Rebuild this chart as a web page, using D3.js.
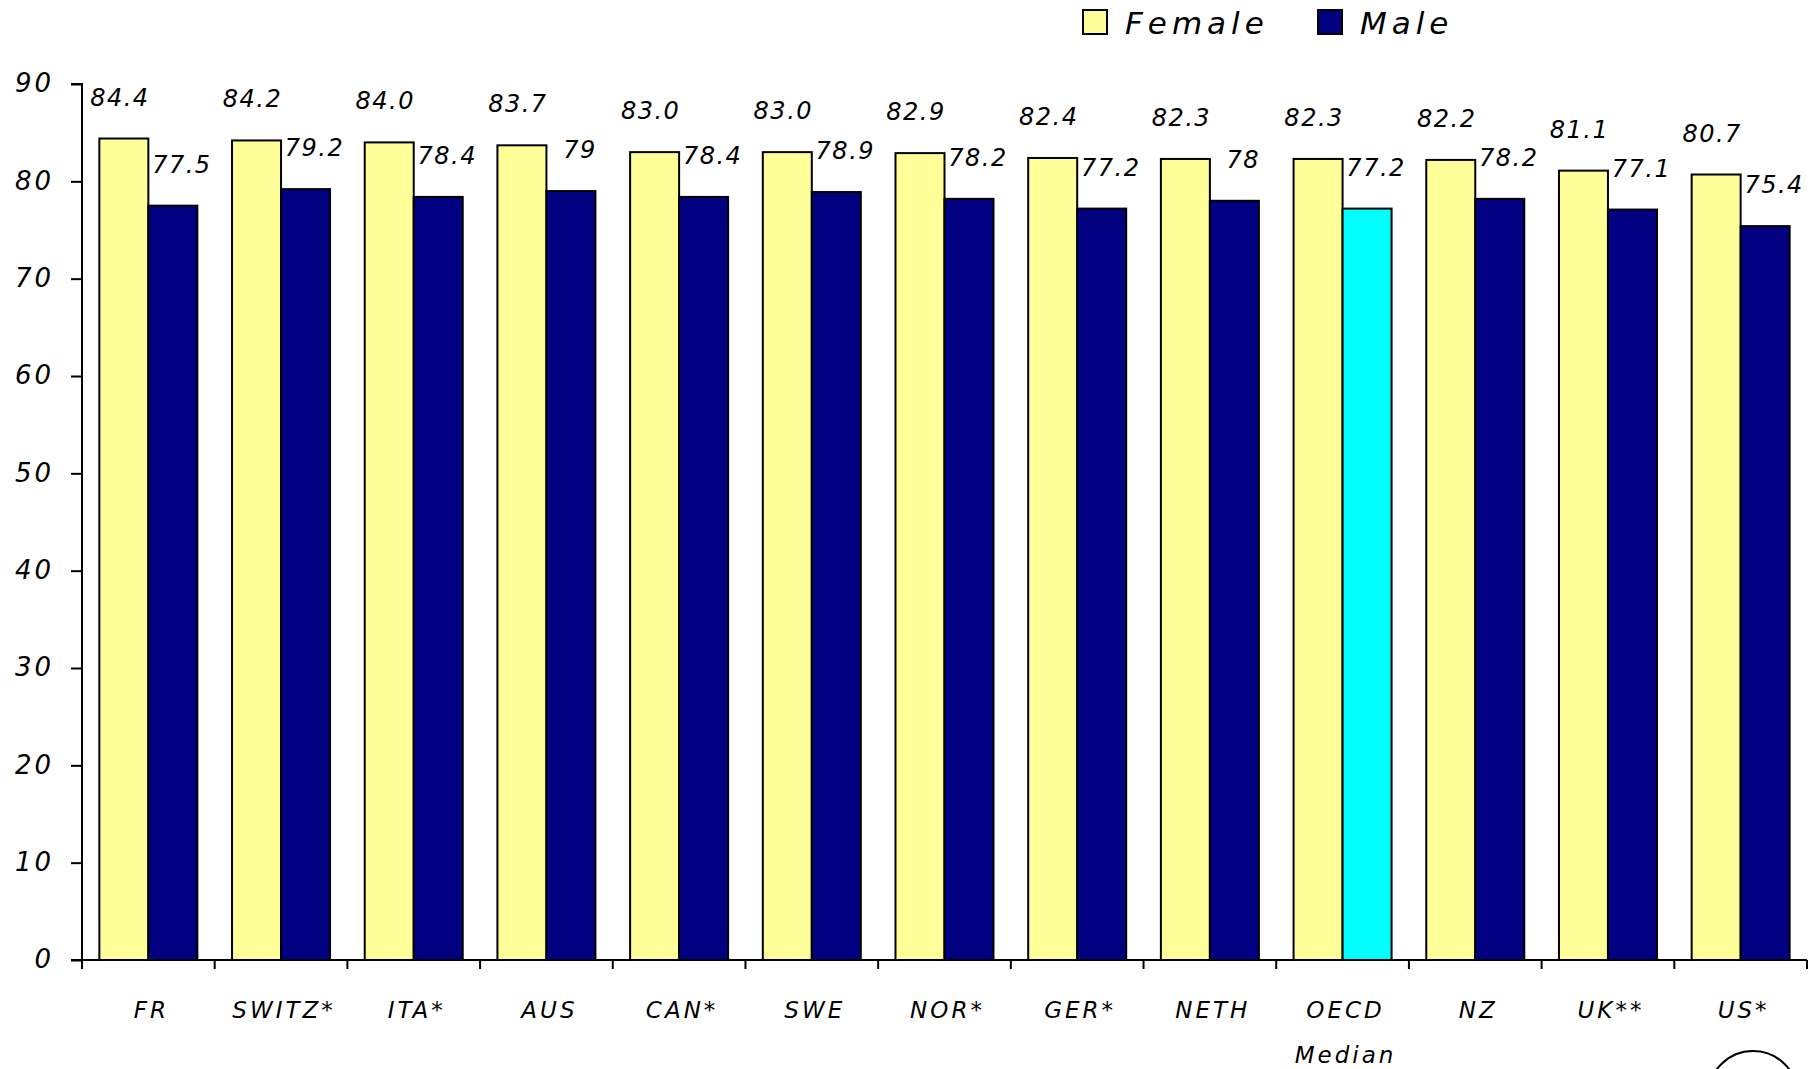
<!DOCTYPE html>
<html>
<head>
<meta charset="utf-8">
<script src="https://cdn.jsdelivr.net/npm/d3@7"></script>
<style>
  html, body { margin: 0; padding: 0; background: #fff; }
  svg text { font-family: "DejaVu Sans", Verdana, sans-serif; font-style: italic; fill: #000; }
</style>
</head>
<body>
<svg id="chart" width="1812" height="1069"></svg>
<script>
// Life expectancy at birth by country, female vs male
const categories = ["FR", "SWITZ*", "ITA*", "AUS", "CAN*", "SWE", "NOR*", "GER*", "NETH", "OECD\nMedian", "NZ", "UK**", "US*"];
const femaleValues = [84.4, 84.2, 84.0, 83.7, 83.0, 83.0, 82.9, 82.4, 82.3, 82.3, 82.2, 81.1, 80.7];
const maleValues = [77.5, 79.2, 78.4, 79, 78.4, 78.9, 78.2, 77.2, 78, 77.2, 78.2, 77.1, 75.4];
const yTicks = [0, 10, 20, 30, 40, 50, 60, 70, 80, 90];
const seriesNames = ["Female", "Male"];
const highlightCategory = "OECD\nMedian";

const colors = { Female: "#FFFF99", Male: "#000080", highlight: "#00FFFF" };

const svg = d3.select("#chart");
const plot = { left: 82, right: 1807, top: 84, bottom: 960 };

const x0 = d3.scaleBand().domain(categories).range([plot.left, plot.right]).padding(0);
const x1 = d3.scaleBand().domain(seriesNames).range([0, x0.bandwidth()]).paddingInner(0).paddingOuter(0.354);
const y = d3.scaleLinear().domain([0, 90]).range([plot.bottom, plot.top]);

const rows = categories.map((c, i) => ({ cat: c, Female: femaleValues[i], Male: maleValues[i] }));

// Bars
const groups = svg.append("g").selectAll("g")
  .data(rows).join("g")
  .attr("transform", d => `translate(${x0(d.cat)},0)`);

groups.selectAll("rect")
  .data(d => seriesNames.map(s => ({ s, v: d[s], cat: d.cat })))
  .join("rect")
  .attr("x", d => x1(d.s))
  .attr("y", d => y(d.v))
  .attr("width", x1.bandwidth())
  .attr("height", d => y(0) - y(d.v))
  .attr("fill", d => (d.s === "Male" && d.cat === highlightCategory) ? colors.highlight : colors[d.s])
  .attr("stroke", "#000")
  .attr("stroke-width", 2);

// Value labels
groups.selectAll("text.val")
  .data(d => seriesNames.map(s => ({ s, v: d[s] })))
  .join("text")
  .attr("class", "val")
  .attr("x", d => x1(d.s) + x1.bandwidth() / 2 + (d.s === "Male" ? 9 : -4))
  .attr("y", d => y(d.v) - 33)
  .attr("text-anchor", "middle")
  .attr("font-size", 24)
  .attr("letter-spacing", 1.5)
  .text(d => d.s === "Female" ? d.v.toFixed(1) : String(d.v));

// Y axis
const yAxis = d3.axisLeft(y).tickValues(yTicks).tickSize(11).tickPadding(17).tickFormat(d3.format("d"));
const gy = svg.append("g").attr("transform", `translate(${plot.left},0)`).call(yAxis);
gy.select(".domain").attr("stroke", "#000").attr("stroke-width", 2).attr("d", `M-11,${plot.top}H0V${plot.bottom}`);
gy.selectAll(".tick line").attr("stroke", "#000").attr("stroke-width", 2);
gy.selectAll(".tick text")
  .attr("font-size", 26).attr("letter-spacing", 3)
  .style("font-family", "'DejaVu Sans', Verdana, sans-serif").style("font-style", "italic")
  .attr("fill", "#000").attr("dy", "0.3em");

// X axis: line with ticks at category boundaries
const gx = svg.append("g");
gx.append("line")
  .attr("x1", plot.left - 11).attr("x2", plot.right)
  .attr("y1", plot.bottom).attr("y2", plot.bottom)
  .attr("stroke", "#000").attr("stroke-width", 2);
const boundaries = categories.map(c => x0(c)).concat([x0(categories[categories.length - 1]) + x0.bandwidth()]);
gx.selectAll("line.tk").data(boundaries).join("line")
  .attr("class", "tk")
  .attr("x1", d => d).attr("x2", d => d)
  .attr("y1", plot.bottom).attr("y2", plot.bottom + 9)
  .attr("stroke", "#000").attr("stroke-width", 2);

const xl = gx.selectAll("text.cat").data(categories).join("text")
  .attr("class", "cat")
  .attr("text-anchor", "middle")
  .attr("font-size", 23)
  .attr("letter-spacing", 3);
xl.each(function (c) {
  const lines = c.split("\n");
  const t = d3.select(this);
  lines.forEach((ln, i) => {
    t.append("tspan")
      .attr("x", x0(c) + x0.bandwidth() / 2 + 3)
      .attr("y", 1018 + i * 45)
      .text(ln);
  });
});

// Legend
const legend = svg.append("g");
const legendItems = [
  { name: "Female", x: 1083 },
  { name: "Male", x: 1318 }
];
legendItems.forEach(it => {
  legend.append("rect")
    .attr("x", it.x).attr("y", 10).attr("width", 24).attr("height", 24)
    .attr("fill", colors[it.name]).attr("stroke", "#000").attr("stroke-width", 2);
  legend.append("text")
    .attr("x", it.x + 42).attr("y", 34)
    .attr("font-size", 31)
    .attr("letter-spacing", 5)
    .text(it.name);
});

// Round seal outline at the bottom-right corner
svg.append("circle")
  .attr("cx", 1753).attr("cy", 1096).attr("r", 45)
  .attr("fill", "none").attr("stroke", "#000").attr("stroke-width", 2);
</script>
</body>
</html>
